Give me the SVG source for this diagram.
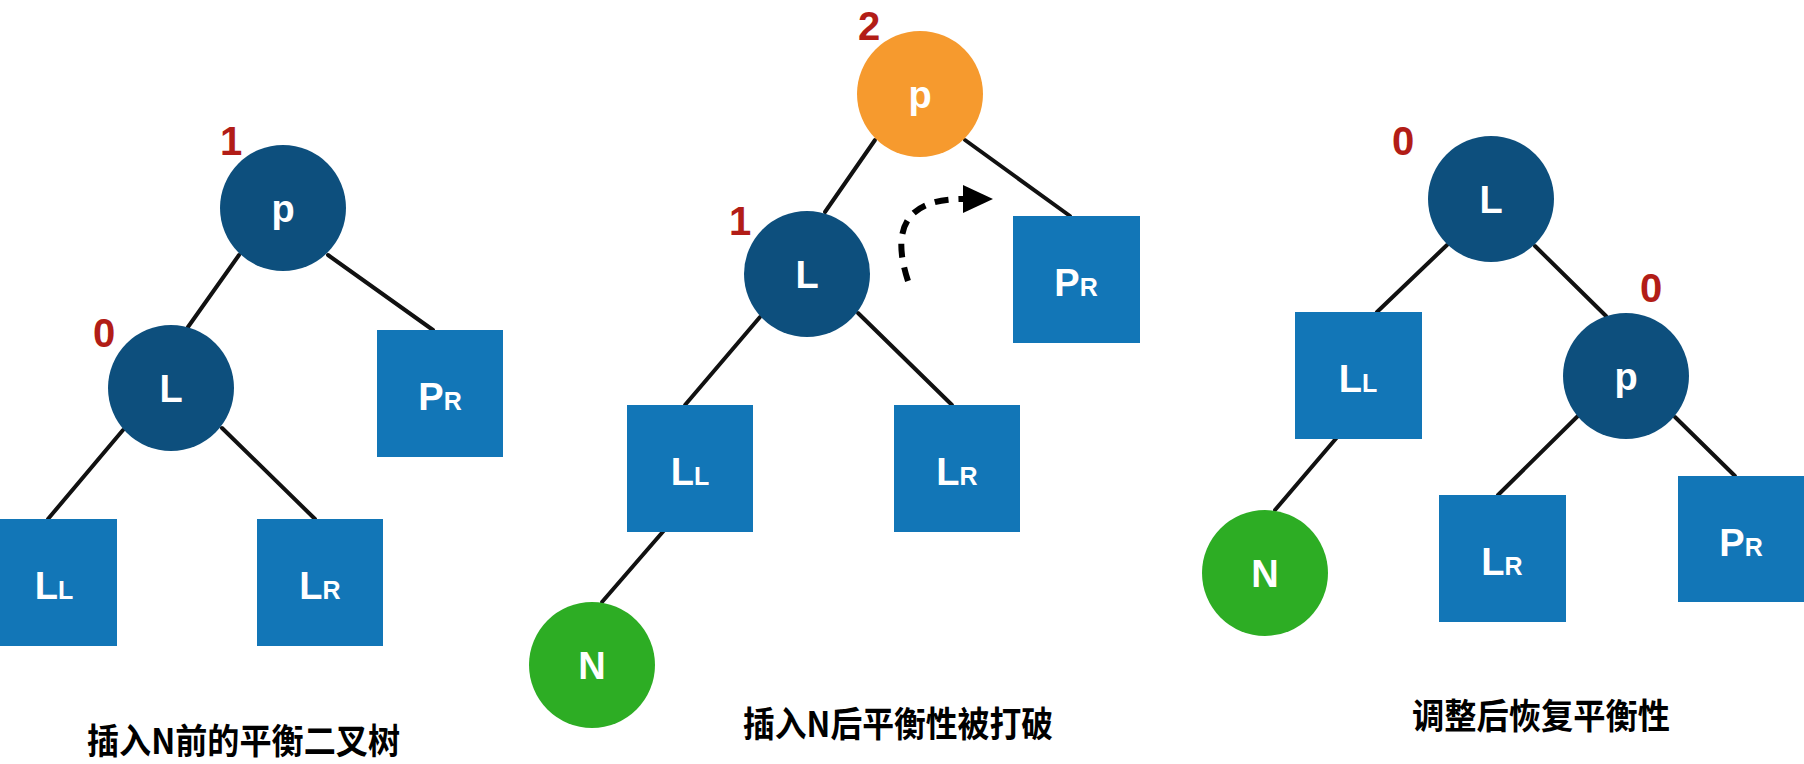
<svg xmlns="http://www.w3.org/2000/svg" width="1804" height="764" viewBox="0 0 1804 764">
  <style>
    .bg { fill: #ffffff; }
    .inner { fill: #0d4f7d; }
    .leaf { fill: #1276b7; }
    .hot { fill: #f69a2e; }
    .new { fill: #2dad24; }
    .lbl { font-family: "Liberation Sans", Arial, sans-serif; font-weight: bold; font-size: 38px; fill: #ffffff; text-anchor: middle; }
    .sub { font-size: 25px; }
    .bf { font-family: "Liberation Sans", Arial, sans-serif; font-weight: bold; font-size: 40px; fill: #b21d17; text-anchor: middle; }
    .cap { font-family: "Noto Sans CJK SC", "Liberation Sans", sans-serif; font-weight: bold; font-size: 35px; fill: #000000; }
    .edge { stroke: #111111; stroke-width: 4; fill: none; stroke-linecap: round; }
    .rot { stroke: #000000; stroke-width: 6; fill: none; stroke-dasharray: 14 10; }
  </style>
  <defs>
    <marker id="arrow" markerUnits="userSpaceOnUse" markerWidth="32" markerHeight="30" refX="0" refY="15" orient="auto">
      <path d="M0,1 L30,15 L0,29 Z" fill="#000000"/>
    </marker>
  </defs>
  <rect class="bg" x="0" y="0" width="1804" height="764"/>

  <g id="connectors">
    <!-- tree 1 -->
    <line class="edge" x1="239" y1="255" x2="188" y2="327"/>
    <line class="edge" x1="328" y1="255" x2="433" y2="330"/>
    <line class="edge" x1="123" y1="430" x2="48" y2="519"/>
    <line class="edge" x1="222" y1="428" x2="315" y2="519"/>
    <!-- tree 2 -->
    <line class="edge" x1="875" y1="140" x2="825" y2="212"/>
    <line class="edge" x1="965" y1="140" x2="1070" y2="216"/>
    <line class="edge" x1="760" y1="317" x2="685" y2="405"/>
    <line class="edge" x1="858" y1="313" x2="952" y2="405"/>
    <line class="edge" x1="667" y1="527" x2="602" y2="602"/>
    <path class="rot" d="M908 281 C 893 235, 900 199, 963 199" marker-end="url(#arrow)"/>
    <!-- tree 3 -->
    <line class="edge" x1="1447" y1="245" x2="1377" y2="312"/>
    <line class="edge" x1="1535" y1="246" x2="1606" y2="316"/>
    <line class="edge" x1="1339" y1="435" x2="1275" y2="510"/>
    <line class="edge" x1="1587" y1="407" x2="1498" y2="495"/>
    <line class="edge" x1="1675" y1="417" x2="1735" y2="476"/>
  </g>

  <!-- Tree 1: before insertion -->
  <g id="t1-p">
    <circle class="inner" cx="283" cy="208" r="63"/>
    <text class="lbl" x="283" y="222">p</text>
    <text class="bf" x="231" y="155">1</text>
  </g>
  <g id="t1-L">
    <circle class="inner" cx="171" cy="388" r="63"/>
    <text class="lbl" x="171" y="402">L</text>
    <text class="bf" x="104" y="347">0</text>
  </g>
  <g id="t1-PR">
    <rect class="leaf" x="377" y="330" width="126" height="127"/>
    <text class="lbl" x="440" y="410">P<tspan class="sub">R</tspan></text>
  </g>
  <g id="t1-LL">
    <rect class="leaf" x="-9" y="519" width="126" height="127"/>
    <text class="lbl" x="54" y="599">L<tspan class="sub">L</tspan></text>
  </g>
  <g id="t1-LR">
    <rect class="leaf" x="257" y="519" width="126" height="127"/>
    <text class="lbl" x="320" y="599">L<tspan class="sub">R</tspan></text>
  </g>
  <g id="t1-caption">
    <text class="cap" x="87" y="754" textLength="313" lengthAdjust="spacingAndGlyphs">插入N前的平衡二叉树</text>
  </g>

  <!-- Tree 2: after insertion, unbalanced -->
  <g id="t2-p">
    <circle class="hot" cx="920" cy="94" r="63"/>
    <text class="lbl" x="920" y="108">p</text>
    <text class="bf" x="869" y="40">2</text>
  </g>
  <g id="t2-L">
    <circle class="inner" cx="807" cy="274" r="63"/>
    <text class="lbl" x="807" y="288">L</text>
    <text class="bf" x="740" y="235">1</text>
  </g>
  <g id="t2-PR">
    <rect class="leaf" x="1013" y="216" width="127" height="127"/>
    <text class="lbl" x="1076" y="296">P<tspan class="sub">R</tspan></text>
  </g>
  <g id="t2-LL">
    <rect class="leaf" x="627" y="405" width="126" height="127"/>
    <text class="lbl" x="690" y="485">L<tspan class="sub">L</tspan></text>
  </g>
  <g id="t2-LR">
    <rect class="leaf" x="894" y="405" width="126" height="127"/>
    <text class="lbl" x="957" y="485">L<tspan class="sub">R</tspan></text>
  </g>
  <g id="t2-N">
    <circle class="new" cx="592" cy="665" r="63"/>
    <text class="lbl" x="592" y="679">N</text>
  </g>
  <g id="t2-caption">
    <text class="cap" x="743" y="737" textLength="310" lengthAdjust="spacingAndGlyphs">插入N后平衡性被打破</text>
  </g>

  <!-- Tree 3: rebalanced -->
  <g id="t3-L">
    <circle class="inner" cx="1491" cy="199" r="63"/>
    <text class="lbl" x="1491" y="213">L</text>
    <text class="bf" x="1403" y="155">0</text>
  </g>
  <g id="t3-LL">
    <rect class="leaf" x="1295" y="312" width="127" height="127"/>
    <text class="lbl" x="1358" y="392">L<tspan class="sub">L</tspan></text>
  </g>
  <g id="t3-p">
    <circle class="inner" cx="1626" cy="376" r="63"/>
    <text class="lbl" x="1626" y="390">p</text>
    <text class="bf" x="1651" y="302">0</text>
  </g>
  <g id="t3-N">
    <circle class="new" cx="1265" cy="573" r="63"/>
    <text class="lbl" x="1265" y="587">N</text>
  </g>
  <g id="t3-LR">
    <rect class="leaf" x="1439" y="495" width="127" height="127"/>
    <text class="lbl" x="1502" y="575">L<tspan class="sub">R</tspan></text>
  </g>
  <g id="t3-PR">
    <rect class="leaf" x="1678" y="476" width="127" height="126"/>
    <text class="lbl" x="1741" y="556">P<tspan class="sub">R</tspan></text>
  </g>
  <g id="t3-caption">
    <text class="cap" x="1412" y="729" textLength="258" lengthAdjust="spacingAndGlyphs">调整后恢复平衡性</text>
  </g>
</svg>
